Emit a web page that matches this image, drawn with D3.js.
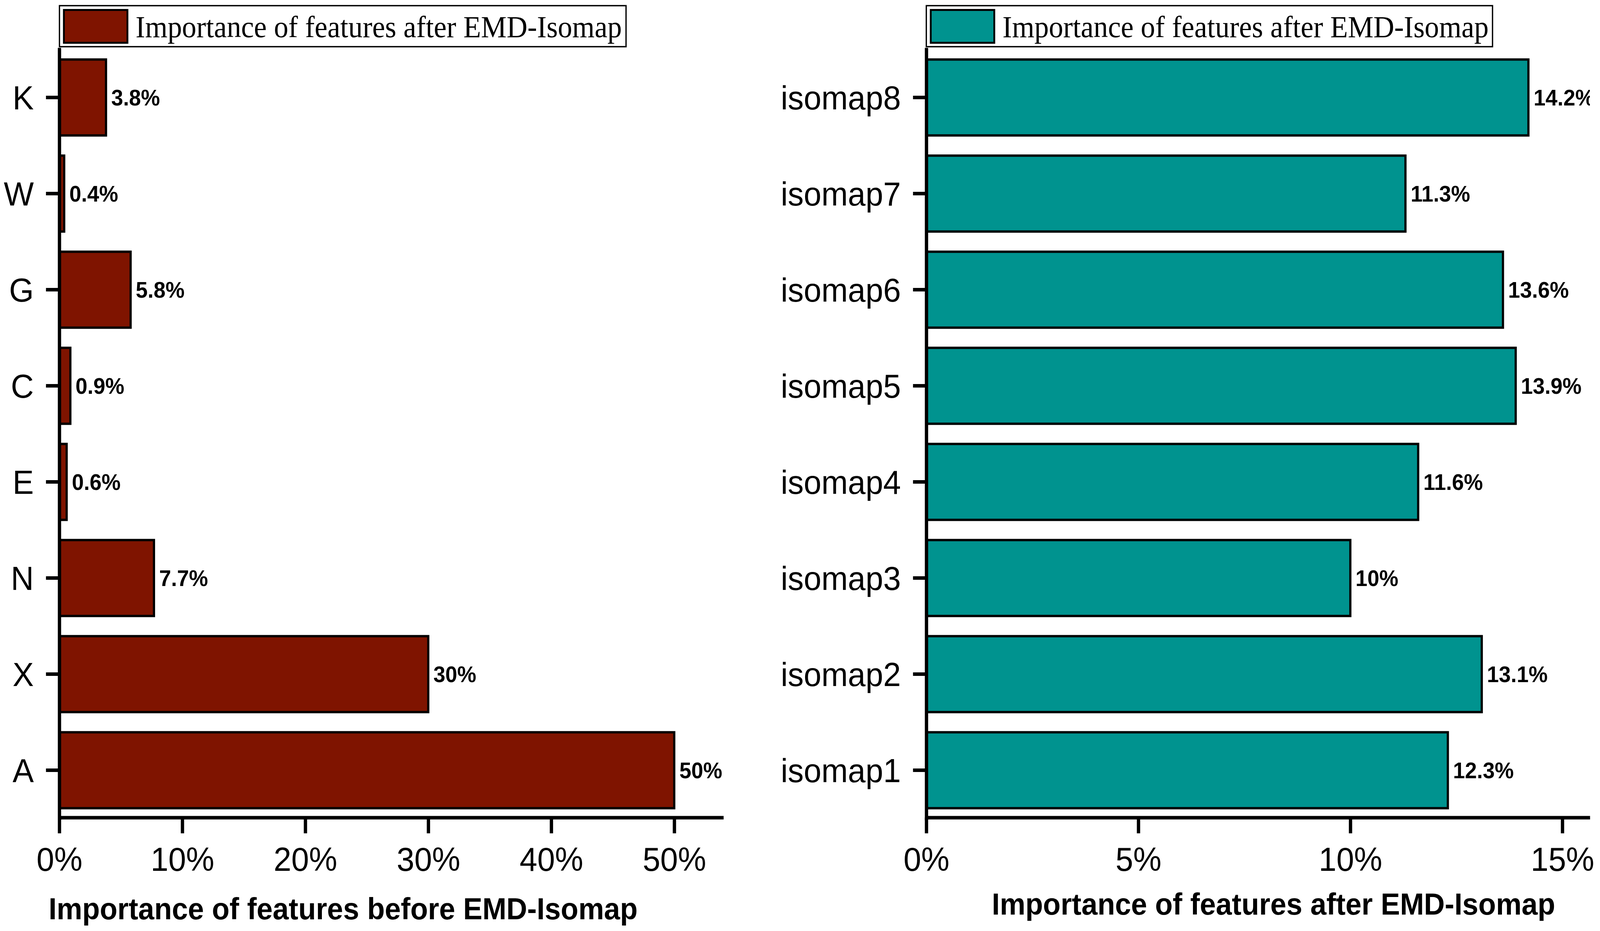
<!DOCTYPE html>
<html>
<head>
<meta charset="utf-8">
<script src="https://cdn.jsdelivr.net/npm/d3@7"></script>
<style>
  html, body { margin: 0; padding: 0; background: #ffffff; width: 100%; height: 100%; overflow: hidden; }
  svg { display: block; position: absolute; left: 0; top: 0; width: 100vw; height: 100vh; }
</style>
</head>
<body>
<script>
// ---- data ----
const leftCategories = ["K", "W", "G", "C", "E", "N", "X", "A"];
const leftValues = [3.8, 0.4, 5.8, 0.9, 0.6, 7.7, 30, 50];
const rightCategories = ["isomap8", "isomap7", "isomap6", "isomap5", "isomap4", "isomap3", "isomap2", "isomap1"];
const rightValues = [14.2, 11.3, 13.6, 13.9, 11.6, 10, 13.1, 12.3];
const leftTicks = [0, 10, 20, 30, 40, 50];
const rightTicks = [0, 5, 10, 15];
const leftLegend = "Importance of features after EMD-Isomap";
const rightLegend = "Importance of features after EMD-Isomap";
const leftTitle = "Importance of features before EMD-Isomap";
const rightTitle = "Importance of features after EMD-Isomap";

const W = 4332, H = 2383;
const SANS = "'Liberation Sans', Arial, Helvetica, sans-serif";
const SERIF = "'Liberation Serif', 'Times New Roman', serif";

const svg = d3.select("body").append("svg")
  .attr("viewBox", `0 0 ${W} ${H}`)
  .attr("preserveAspectRatio", "none");

svg.append("rect").attr("width", W).attr("height", H).attr("fill", "#fff");

const defs = svg.append("defs");

function panel(cfg) {
  const x = d3.scaleLinear().domain([0, cfg.xMax]).range([cfg.x0, cfg.x1]);
  const y = d3.scaleBand().domain(cfg.categories).range([126.5, 2094.5])
    .paddingInner(0.21).paddingOuter(0.105);
  const axisY = 2092.5;
  const g = svg.append("g");

  const data = cfg.categories.map((c, i) => ({ c, v: cfg.values[i] }));
  g.append("g").selectAll("rect").data(data).join("rect")
    .attr("x", x(0))
    .attr("y", d => y(d.c))
    .attr("width", d => x(d.v) - x(0))
    .attr("height", y.bandwidth())
    .attr("fill", cfg.color)
    .attr("stroke", "#000")
    .attr("stroke-width", 6);

  const clipId = "clip-" + cfg.id;
  defs.append("clipPath").attr("id", clipId)
    .append("rect").attr("x", cfg.x0).attr("y", 0)
    .attr("width", cfg.x1 - cfg.x0).attr("height", H);
  g.append("g").attr("clip-path", `url(#${clipId})`)
    .selectAll("text").data(data).join("text")
    .attr("x", d => x(d.v) + 14)
    .attr("y", d => y(d.c) + y.bandwidth() / 2)
    .attr("dy", "0.36em")
    .attr("font-family", SANS)
    .attr("font-weight", "bold")
    .attr("font-size", 58)
    .attr("fill", "#000")
    .text(d => d.v + "%");

  const xAxis = d3.axisBottom(x).tickValues(cfg.ticks)
    .tickFormat(d => d + "%").tickSizeInner(40.5).tickSizeOuter(0).tickPadding(34);
  const gx = g.append("g").attr("transform", `translate(0,${axisY})`).call(xAxis);
  gx.select(".domain").attr("stroke", "#000").attr("stroke-width", 9);
  gx.selectAll(".tick line").attr("stroke", "#000").attr("stroke-width", 9);
  gx.selectAll(".tick text").attr("font-family", SANS).attr("font-size", 86)
    .attr("fill", "#000").attr("dy", "0.72em");

  const yAxis = d3.axisLeft(y).tickSizeInner(36).tickSizeOuter(0).tickPadding(33);
  const gy = g.append("g").attr("transform", `translate(${cfg.x0},0)`).call(yAxis);
  gy.select(".domain").attr("stroke", "#000").attr("stroke-width", 9)
    .attr("stroke-linecap", "square");
  gy.selectAll(".tick line").attr("stroke", "#000").attr("stroke-width", 9);
  gy.selectAll(".tick text").attr("font-family", SANS).attr("font-size", 86)
    .attr("fill", "#000").attr("dy", "0.36em");

  g.append("text")
    .attr("x", cfg.titleX).attr("y", cfg.titleY)
    .attr("text-anchor", "middle")
    .attr("font-family", SANS).attr("font-weight", "bold").attr("font-size", 78)
    .attr("fill", "#000")
    .text(cfg.title);

  const lg = g.append("g");
  lg.append("rect")
    .attr("x", cfg.legX0).attr("y", 14.5)
    .attr("width", cfg.legX1 - cfg.legX0).attr("height", 105)
    .attr("fill", "#fff").attr("stroke", "#000").attr("stroke-width", 3.5);
  lg.append("rect")
    .attr("x", cfg.legX0 + 12).attr("y", 25.5)
    .attr("width", 172).attr("height", 84)
    .attr("fill", cfg.color).attr("stroke", "#000").attr("stroke-width", 5);
  lg.append("text")
    .attr("x", cfg.legX0 + 206).attr("y", 95)
    .attr("font-family", SERIF).attr("font-size", 78).attr("fill", "#000")
    .text(cfg.legend);
}

panel({
  id: "left", categories: leftCategories, values: leftValues, ticks: leftTicks,
  xMax: 54, x0: 160.5, x1: 160.5 + 54 * 33.3, color: "#7f1400",
  title: leftTitle, titleX: 929, titleY: 2353,
  legend: leftLegend, legX0: 161, legX1: 1695
});

panel({
  id: "right", categories: rightCategories, values: rightValues, ticks: rightTicks,
  xMax: 15.65, x0: 2508, x1: 2508 + 15.65 * 114.8, color: "#00938f",
  title: rightTitle, titleX: 3448, titleY: 2341,
  legend: rightLegend, legX0: 2508, legX1: 4041
});
</script>
</body>
</html>
